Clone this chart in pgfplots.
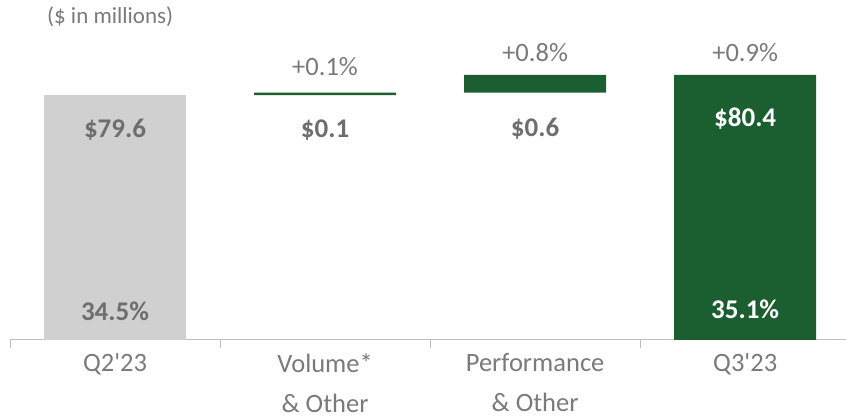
\documentclass[border=0pt]{standalone}
\usepackage{pgfplots}
\pgfplotsset{compat=1.18}
\usepackage{fontspec}
\setmainfont{Carlito}
\definecolor{grn}{HTML}{1B5E30}
\definecolor{barg}{HTML}{D0D0D0}
\definecolor{txt}{HTML}{7A7A7A}
\definecolor{val}{HTML}{6E6E6E}
\definecolor{axg}{HTML}{BFBFBF}
\begin{document}
\begin{tikzpicture}
\path[use as bounding box] (-10pt,-79pt) rectangle (836pt,340pt);
\begin{axis}[
 scale only axis, width=836pt, height=340pt,
 xmin=-0.5, xmax=3.48, ymin=70, ymax=83.333,
 ybar stacked, bar width=142pt,
 axis y line=none,
 axis x line*=bottom,
 x axis line style={draw=axg, line width=1pt},
 xtick={-0.5,0.5,1.5,2.5},
 xticklabels={},
 tick align=outside,
 major tick length=8pt,
 xtick style={draw=axg, line width=0.8pt},
 extra x ticks={0,1,2,3},
 extra x tick labels={Q2\textquotesingle 23, {Volume*\\\& Other}, {Performance\\\& Other}, Q3\textquotesingle 23},
 extra x tick style={major tick length=0pt, xtick style={draw=none}},
 x tick label style={align=center, font=\fontsize{26.5}{40}\selectfont, text=txt, yshift=-10pt},
 clip mode=individual,
]
\addplot[fill=barg, draw=none] coordinates {(0,79.6) (1,0) (2,0) (3,0)};
\addplot[fill=none, draw=none] coordinates {(0,0) (1,79.6) (2,79.7) (3,0)};
\addplot[fill=grn, draw=none] coordinates {(0,0) (1,0.1) (2,0.7) (3,80.4)};

\coordinate (t0) at (axis cs:-0.324,82.67);
\coordinate (a1) at (axis cs:0,78.24);
\coordinate (a2) at (axis cs:0,71.14);
\coordinate (b1) at (axis cs:1,78.24);
\coordinate (c1) at (axis cs:2,78.27);
\coordinate (d1) at (axis cs:3,78.7);
\coordinate (d2) at (axis cs:3,71.2);
\coordinate (b0) at (axis cs:1,80.71);
\coordinate (c0) at (axis cs:2,81.29);
\coordinate (d0) at (axis cs:3,81.29);
\end{axis}
\node[anchor=west, inner xsep=0pt, font=\fontsize{23}{26}\selectfont, text=txt] at (t0) {(\$ in millions)};
\node[font=\fontsize{27}{30}\selectfont\bfseries, text=val] at (a1) {\$79.6};
\node[font=\fontsize{27}{30}\selectfont\bfseries, text=val] at (a2) {34.5\%};
\node[font=\fontsize{27}{30}\selectfont\bfseries, text=val] at (b1) {\$0.1};
\node[font=\fontsize{27}{30}\selectfont\bfseries, text=val] at (c1) {\$0.6};
\node[font=\fontsize{27}{30}\selectfont\bfseries, text=white] at (d1) {\$80.4};
\node[font=\fontsize{27}{30}\selectfont\bfseries, text=white] at (d2) {35.1\%};
\node[font=\fontsize{26.5}{30}\selectfont, text=txt] at (b0) {+0.1\%};
\node[font=\fontsize{26.5}{30}\selectfont, text=txt] at (c0) {+0.8\%};
\node[font=\fontsize{26.5}{30}\selectfont, text=txt] at (d0) {+0.9\%};
\end{tikzpicture}
\end{document}
